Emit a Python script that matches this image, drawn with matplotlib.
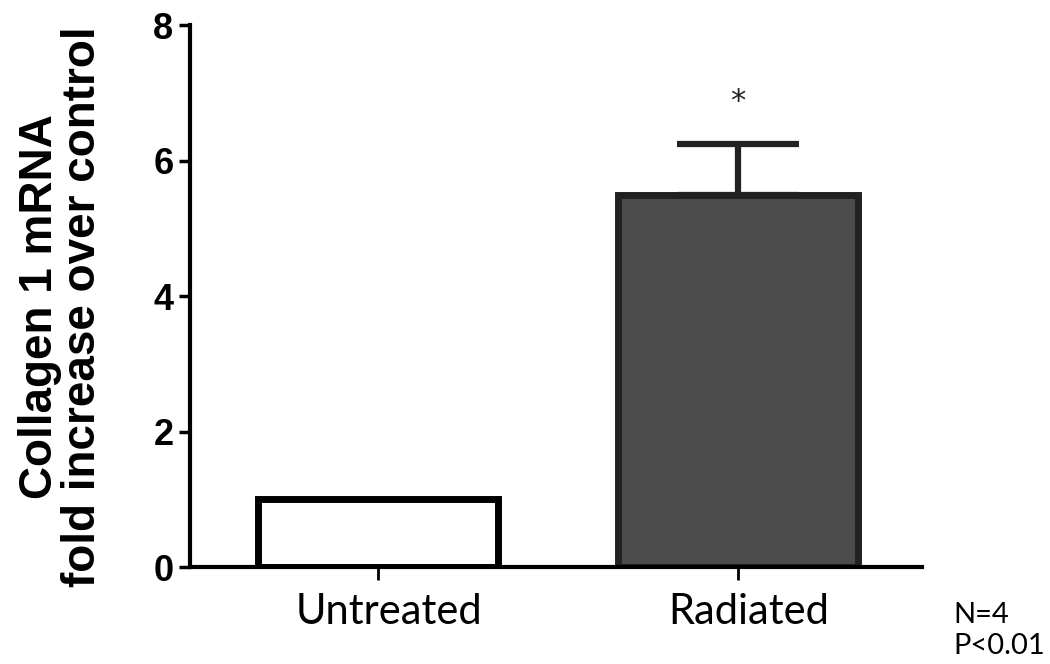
import numpy as np
import matplotlib
matplotlib.use('Agg')
import matplotlib.pyplot as plt

# Data
groups = ['Untreated', 'Radiated']
fold_change = [1.0, 5.5]
sem_upper = [0.0, 0.75]
bar_colors = ['white', '#4b4b4b']
edge_colors = ['black', '#222222']

fig = plt.figure(figsize=(10.5, 6.64), dpi=100)
ax = fig.add_axes([0.181, 0.146, 0.697, 0.816])

x = np.arange(len(groups))
ax.bar(x, fold_change, width=0.667, color=bar_colors, edgecolor=edge_colors,
       linewidth=5, zorder=2)
ax.errorbar(x[1], fold_change[1], yerr=[[0], [sem_upper[1]]], fmt='none',
            ecolor='#222222', elinewidth=4.5, capsize=44, capthick=4.5, zorder=1)
ax.text(x[1], fold_change[1] + sem_upper[1] + 0.62, '*', ha='center', va='center',
        fontsize=22, color='#222222')

ax.set_xlim(-0.522, 1.511)
ax.set_ylim(0, 8)
ax.set_yticks([0, 2, 4, 6, 8])
ax.set_xticks(x + 0.03)
ax.set_xticklabels(groups, fontsize=30, family='Lato')
for lab in ax.get_yticklabels():
    lab.set_fontsize(26)
    lab.set_fontweight('bold')
    lab.set_family('Liberation Sans')

# tick marks sit at bar centres, labels slightly right of them
ax.set_xticks(x, minor=True)
ax.tick_params(axis='x', which='major', length=0, pad=19)
ax.tick_params(axis='x', which='minor', direction='out', length=9, width=2)

ax.spines['top'].set_visible(False)
ax.spines['right'].set_visible(False)
ax.spines['left'].set_linewidth(3)
ax.spines['bottom'].set_linewidth(3)
ax.tick_params(axis='y', direction='out', length=8, width=2.5, pad=4)

ax.set_ylabel('Collagen 1 mRNA\nfold increase over control', fontsize=33,
              fontweight='bold', family='Liberation Sans', linespacing=0.98)
ax.yaxis.set_label_coords(-0.116, 0.48)

fig.text(0.908, 0.05, 'N=4\nP<0.01', fontsize=21, family='Lato',
         ha='left', va='center', linespacing=1.25)

fig.savefig('out.png', dpi=100)
